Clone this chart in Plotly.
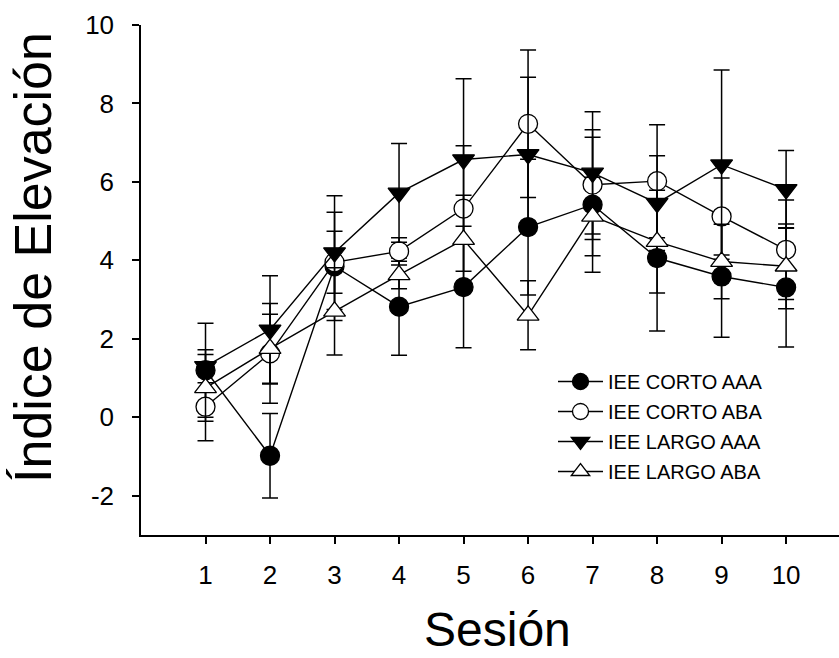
import plotly.graph_objects as go

sessions = [1, 2, 3, 4, 5, 6, 7, 8, 9, 10]

corto_aaa = [1.20, -0.98, 3.85, 2.82, 3.32, 4.85, 5.42, 4.06, 3.59, 3.31]
corto_aaa_err = [1.20, 1.08, 1.38, 1.24, 1.55, 1.73, 1.72, 1.86, 1.55, 1.52]

corto_aba = [0.27, 1.63, 3.95, 4.23, 5.32, 7.48, 5.93, 6.02, 5.12, 4.27]
corto_aba_err = [0.87, 1.27, 0.79, 0.35, 1.60, 1.88, 1.40, 1.44, 0.98, 1.27]

largo_aaa = [1.30, 2.23, 4.20, 5.72, 6.57, 6.70, 6.23, 5.46, 6.44, 5.81]
largo_aaa_err = [0.42, 1.38, 1.45, 1.26, 2.06, 1.97, 1.56, 1.21, 2.41, 0.99]

largo_aba = [0.75, 1.75, 2.70, 3.63, 4.53, 2.60, 5.12, 4.48, 3.97, 3.85]
largo_aba_err = [0.85, 0.88, 1.11, 0.35, 1.13, 0.88, 1.00, 1.31, 0.95, 1.08]

series_names = ["IEE CORTO AAA", "IEE CORTO ABA", "IEE LARGO AAA", "IEE LARGO ABA"]
x_ticks = [1, 2, 3, 4, 5, 6, 7, 8, 9, 10]
y_ticks = [-2, 0, 2, 4, 6, 8, 10]

FONT = "Arial, Liberation Sans, sans-serif"

styles = [
    dict(symbol="circle", color="black"),
    dict(symbol="circle", color="white"),
    dict(symbol="triangle-down", color="black"),
    dict(symbol="triangle-up", color="white"),
]
data = [
    (corto_aaa, corto_aaa_err),
    (corto_aba, corto_aba_err),
    (largo_aaa, largo_aaa_err),
    (largo_aba, largo_aba_err),
]

fig = go.Figure()
for i, (name, (vals, errs), st) in enumerate(zip(series_names, data, styles)):
    fig.add_trace(go.Scatter(
        x=sessions, y=vals, name=name, mode="lines+markers",
        legendgroup=f"g{i}",
        line=dict(color="black", width=1.4),
        marker=dict(symbol=st["symbol"], size=19, color=st["color"],
                    line=dict(color="black", width=1.3)),
        error_y=dict(type="data", array=errs, visible=True,
                     color="black", thickness=1.5, width=8),
        cliponaxis=False,
    ))

W, H = 839, 658
L, R, T, B = 141, 0, 25, 123
PW, PH = W - L - R, H - T - B

fig.update_layout(
    width=W, height=H,
    margin=dict(l=L, r=R, t=T, b=B),
    paper_bgcolor="white", plot_bgcolor="white",
    font=dict(family=FONT, color="black"),
    showlegend=True,
    legend=dict(
        x=(553 - L) / PW, y=(535 - 362) / PH, xanchor="left", yanchor="top",
        bgcolor="rgba(0,0,0,0)", borderwidth=0,
        font=dict(family=FONT, size=20, color="black"),
        itemsizing="trace", itemwidth=45,
        traceorder="grouped", tracegroupgap=1,
    ),
    xaxis=dict(
        range=[0, 10.82], tickmode="array", tickvals=x_ticks,
        ticktext=[str(v) for v in x_ticks],
        showline=True, linecolor="black", linewidth=1.5,
        ticks="outside", ticklen=7, tickwidth=1.5, tickcolor="black",
        showgrid=False, zeroline=False,
        tickfont=dict(family=FONT, size=26, color="black"),
        ticklabelstandoff=9,
    ),
    yaxis=dict(
        range=[-3, 10], tickmode="array", tickvals=y_ticks,
        ticktext=[str(v) for v in y_ticks],
        showline=True, linecolor="black", linewidth=1.5,
        ticks="outside", ticklen=7, tickwidth=1.5, tickcolor="black",
        showgrid=False, zeroline=False,
        tickfont=dict(family=FONT, size=26, color="black"),
        ticklabelstandoff=13,
    ),
    annotations=[
        dict(text="Sesión", xref="paper", yref="paper",
             x=(497 - L) / PW, y=(535 - 658) / PH,
             xanchor="center", yanchor="bottom", showarrow=False,
             font=dict(family=FONT, size=48, color="black")),
        dict(text="Índice de Elevación", xref="paper", yref="paper",
             x=(33 - L) / PW, y=(535 - 258) / PH,
             xanchor="center", yanchor="middle", showarrow=False, textangle=-90,
             font=dict(family=FONT, size=52, color="black")),
    ],
)

fig.write_html(
    "out.html",
    config={"displayModeBar": False},
    post_script="document.body.style.margin='0px';document.body.style.overflow='hidden';",
)
